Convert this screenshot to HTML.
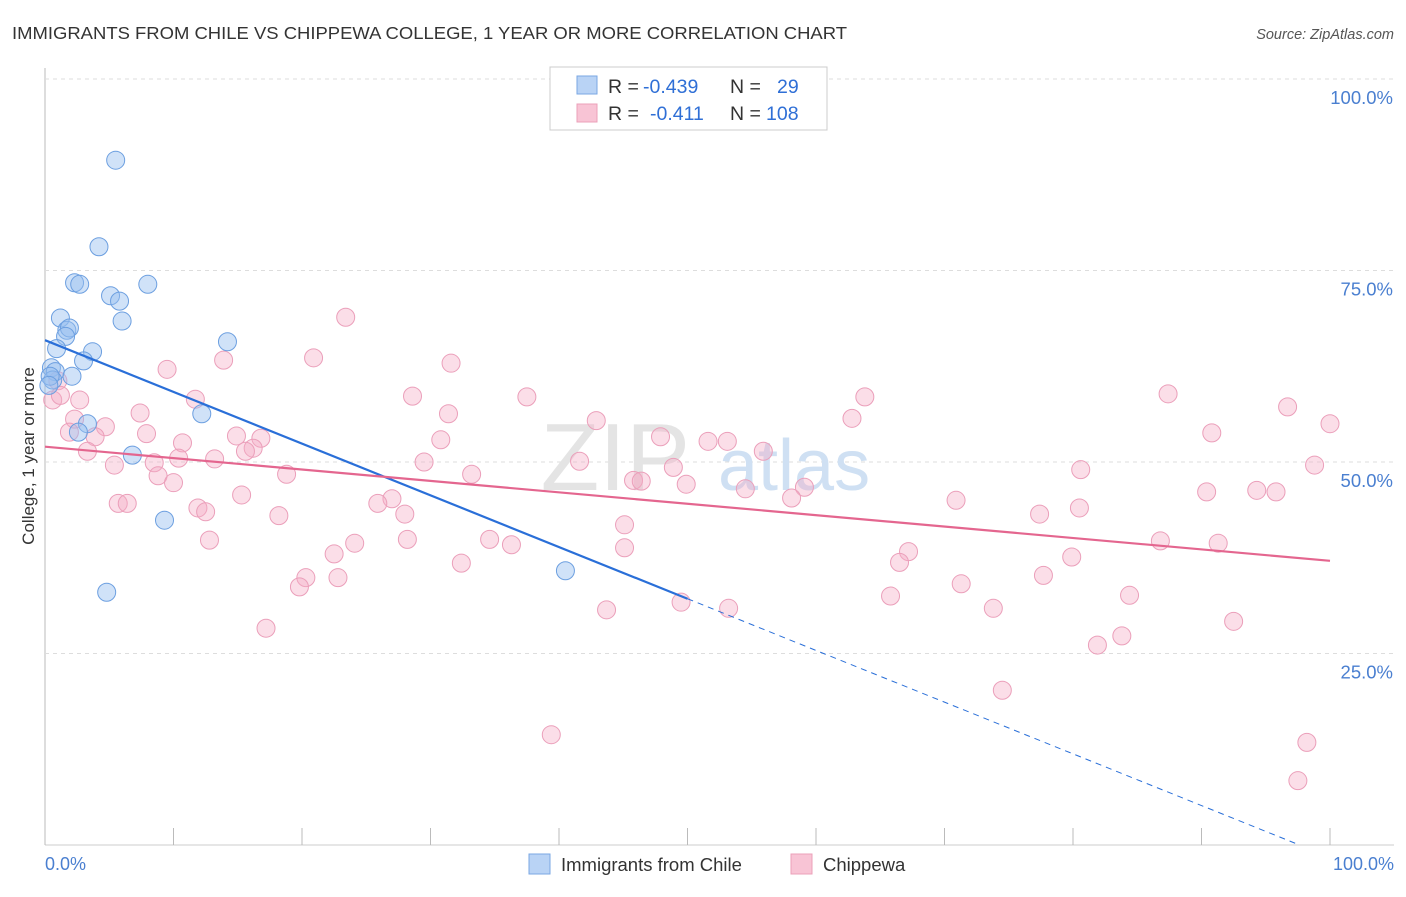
<!DOCTYPE html>
<html><head><meta charset="utf-8"><style>
body{margin:0;background:#fff;font-family:"Liberation Sans",sans-serif}
svg text{font-family:"Liberation Sans",sans-serif}
</style></head><body>
<svg width="1406" height="892">
<text x="12" y="39" font-size="17.5" fill="#333" textLength="835" lengthAdjust="spacingAndGlyphs">IMMIGRANTS FROM CHILE VS CHIPPEWA COLLEGE, 1 YEAR OR MORE CORRELATION CHART</text>
<text x="1394" y="39" font-size="14.5" fill="#555" font-style="italic" text-anchor="end">Source: ZipAtlas.com</text>
<g id="grid"></g>
<text x="690" y="490" font-size="96" fill="#e4e4e4" font-family="Liberation Serif" text-anchor="end">ZIP</text>
<text x="718" y="490" font-size="72" fill="#cfe0f3">atlas</text>
<text transform="translate(34,456) rotate(-90)" font-size="17" fill="#333" text-anchor="middle">College, 1 year or more</text>
<text x="45" y="870" font-size="18" fill="#4a7fd0">0.0%</text>
<text x="1394" y="870" font-size="18" fill="#4a7fd0" text-anchor="end">100.0%</text>
<g id="points"></g>
<g id="trends"></g>
<g>
<rect x="550" y="67" width="277" height="63" fill="#fff" stroke="#ccc"/>
<rect x="577" y="76" width="20" height="18" fill="#b9d3f5" stroke="#7aa7e3"/>
<rect x="577" y="104" width="20" height="18" fill="#f8c4d5" stroke="#eba0b9"/>
<text y="93" font-size="19.5" fill="#333"><tspan x="608">R =</tspan><tspan x="643" fill="#2f6fd6">-0.439</tspan><tspan x="730">N =</tspan><tspan x="777" fill="#2f6fd6">29</tspan></text>
<text y="120" font-size="19.5" fill="#333"><tspan x="608">R =</tspan><tspan x="650" fill="#2f6fd6">-0.411</tspan><tspan x="730">N =</tspan><tspan x="766" fill="#2f6fd6">108</tspan></text>
</g>
<g>
<rect x="529" y="854" width="21" height="20" fill="#b9d3f5" stroke="#7aa7e3"/>
<text x="561" y="871" font-size="18.5" fill="#333">Immigrants from Chile</text>
<rect x="791" y="854" width="21" height="20" fill="#f8c4d5" stroke="#eba0b9"/>
<text x="823" y="871" font-size="18.5" fill="#333">Chippewa</text>
</g>
</svg>
<script>
const yTicks=[25,50,75,100];
const yTickLabels=["25.0%","50.0%","75.0%","100.0%"];
const xTicks=[0,10,20,30,40,50,60,70,80,90,100];
const chileX=[5.5,4.2,2.3,2.7,8.0,5.1,5.8,6.0,1.2,1.7,1.9,1.6,0.9,3.7,14.2,3.0,0.5,0.8,2.1,0.6,12.2,3.3,2.6,6.8,9.3,4.8,40.5,0.4,0.3];
const chileY=[89.4,78.1,73.4,73.2,73.2,71.7,71.0,68.4,68.8,67.2,67.5,66.4,64.8,64.4,65.7,63.2,62.3,61.8,61.2,60.7,56.3,55.0,53.9,50.9,42.4,33.0,35.8,61.2,60.0];
const chipX=[23.4,9.5,13.9,20.9,31.6,1.0,0.6,1.2,2.7,28.6,37.5,63.8,87.4,96.7,7.4,11.7,31.4,42.9,62.8,100,2.3,4.7,1.9,3.9,7.9,16.8,14.9,30.8,47.9,51.6,53.1,90.8,10.7,3.3,16.2,15.6,55.9,5.4,8.5,10.4,13.2,18.8,29.5,41.6,48.9,8.8,10.0,33.2,45.8,46.4,49.9,80.6,98.8,54.5,59.1,15.3,27.0,25.9,58.1,70.9,90.4,94.3,95.8,5.7,6.4,11.9,12.5,18.2,28.0,77.4,80.5,45.1,12.8,28.2,34.6,36.3,22.5,24.1,45.1,67.2,79.9,86.8,91.3,32.4,66.5,20.3,19.8,22.8,77.7,71.3,65.8,84.4,49.5,43.7,53.2,73.8,92.5,17.2,83.8,81.9,74.5,39.4,98.2,97.5];
const chipY=[68.9,62.1,63.3,63.6,62.9,60.6,58.1,58.7,58.1,58.6,58.5,58.5,58.9,57.2,56.4,58.2,56.3,55.4,55.7,55.0,55.6,54.6,53.9,53.3,53.7,53.1,53.4,52.9,53.3,52.7,52.7,53.8,52.5,51.4,51.8,51.4,51.4,49.6,49.9,50.5,50.4,48.4,50.0,50.1,49.3,48.2,47.3,48.4,47.6,47.5,47.1,49.0,49.6,46.5,46.7,45.7,45.2,44.6,45.3,45.0,46.1,46.3,46.1,44.6,44.6,44.0,43.5,43.0,43.2,43.2,44.0,41.8,39.8,39.9,39.9,39.2,38.0,39.4,38.8,38.3,37.6,39.7,39.4,36.8,36.9,34.9,33.7,34.9,35.2,34.1,32.5,32.6,31.7,30.7,30.9,30.9,29.2,28.3,27.3,26.1,20.2,14.4,13.4,8.4];
const chileTrend=[65.9,-0.675];
const chipTrend=[52.0,-0.149];
const NS="http://www.w3.org/2000/svg";
const X=v=>45+v*12.85, Y=v=>845-v*7.66;
function mk(t,a,p){const e=document.createElementNS(NS,t);for(const k in a)e.setAttribute(k,a[k]);p.appendChild(e);return e;}
const grid=document.getElementById('grid');
let ax=mk('line',{x1:45,y1:68,x2:45,y2:845,stroke:'#bbb'},grid);


let bx=mk('line',{x1:45,y1:845,x2:1394,y2:845,stroke:'#ccc'},grid);


yTicks.forEach((t,i)=>{
 const g=mk('line',{x1:45,y1:Y(t),x2:1394,y2:Y(t),stroke:'#ddd','stroke-dasharray':'4,4'},grid);
 
 
 const l=mk('text',{x:1393,y:Y(t)+25,'font-size':18.5,fill:'#4a7fd0','text-anchor':'end'},grid);
 l.textContent=yTickLabels[i];
 
 
});
xTicks.forEach(t=>{
 const k=mk('line',{x1:X(t),y1:828,x2:X(t),y2:845,stroke:'#bbb'},grid);
 
 
});
const pts=document.getElementById('points');
chipX.forEach((x,i)=>{
 const c=mk('circle',{cx:X(x),cy:Y(chipY[i]),r:9,fill:'rgba(246,172,198,0.4)',stroke:'#eb9fba','stroke-width':1},pts);
 
 
});
chileX.forEach((x,i)=>{
 const c=mk('circle',{cx:X(x),cy:Y(chileY[i]),r:9,fill:'rgba(150,190,240,0.45)',stroke:'#6c9fe0','stroke-width':1},pts);
 
 
});
const tr=document.getElementById('trends');
const xEnd=-chileTrend[0]/chileTrend[1];
let a=mk('line',{x1:X(0),y1:Y(chileTrend[0]),x2:X(50),y2:Y(chileTrend[0]+50*chileTrend[1]),stroke:'#2a6fd8','stroke-width':2.2},tr);


let b=mk('line',{x1:X(50),y1:Y(chileTrend[0]+50*chileTrend[1]),x2:X(xEnd),y2:Y(0),stroke:'#2a6fd8','stroke-width':1,'stroke-dasharray':'6,5'},tr);


let c=mk('line',{x1:X(0),y1:Y(chipTrend[0]),x2:X(100),y2:Y(chipTrend[0]+100*chipTrend[1]),stroke:'#e4668f','stroke-width':2.2},tr);


</script>
</body></html>
